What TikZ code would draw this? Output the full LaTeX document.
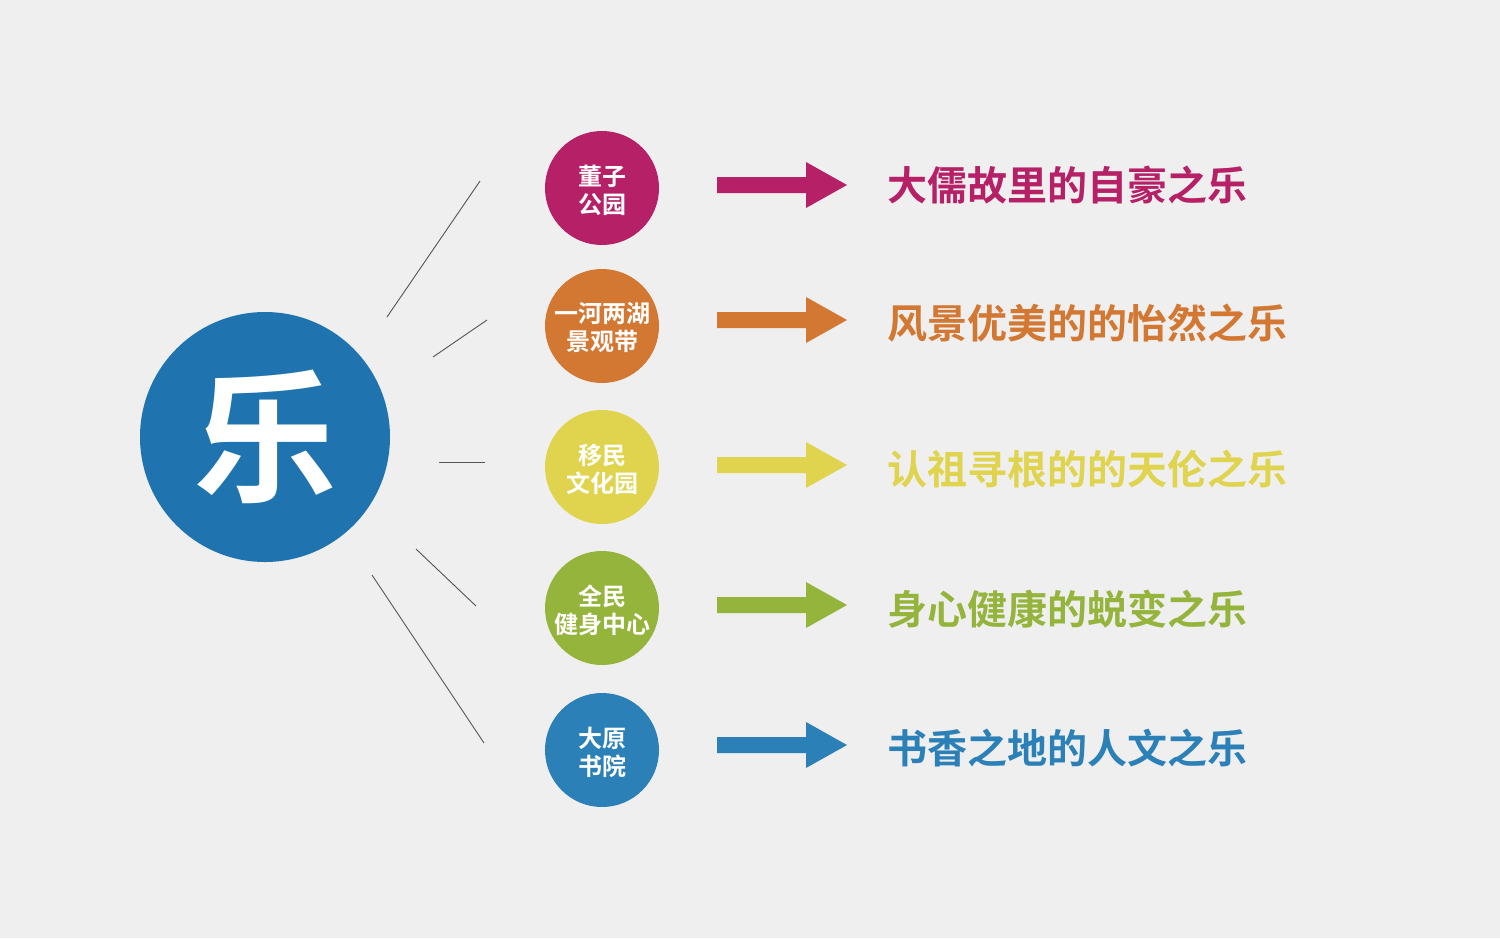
\documentclass[tikz,border=0pt]{standalone}
\usepackage{fontspec}
\newfontfamily\cjk{Noto Sans CJK SC}[BoldFont={Noto Sans CJK SC Bold}]
\definecolor{bg}{HTML}{EFEFEF}
\definecolor{cA}{HTML}{B62067}
\definecolor{cB}{HTML}{D27832}
\definecolor{cC}{HTML}{E0D44E}
\definecolor{cD}{HTML}{95B43C}
\definecolor{cE}{HTML}{2A80B7}
\definecolor{cBig}{HTML}{1F74AF}
\definecolor{ray}{HTML}{555555}
\begin{document}
\begin{tikzpicture}[x=0.5pt,y=-0.5pt,
  smallc/.style={circle,inner sep=0pt,minimum size=57pt,text=white,align=center,
    font=\cjk\bfseries\fontsize{12pt}{14pt}\selectfont},
  lbl/.style={anchor=west,inner sep=0pt,font=\cjk\bfseries\fontsize{20pt}{22pt}\selectfont},
  rayline/.style={draw=ray,line width=0.45pt}]
\fill[bg] (0,0) rectangle (1500,938);
\useasboundingbox (0,0) rectangle (1500,938);
% big circle
\node[circle,fill=cBig,minimum size=125pt,inner sep=0pt,text=white,
  font=\cjk\bfseries\fontsize{72pt}{72pt}\selectfont] (le) at (265,437) {乐};
% rays
\draw[rayline] (387,317) -- (480,181);
\draw[rayline] (433,357) -- (487,320);
\draw[rayline] (439,462) -- (485,462);
\draw[rayline] (416,549) -- (476,606);
\draw[rayline] (372,575) -- (484,743);
% rows
\foreach \n/\cy/\ay/\ly/\col/\ctext/\ltext in {
  1/188/185/185/cA/{董子\\公园}/{大儒故里的自豪之乐},
  2/326/320/323/cB/{一河两湖\\景观带}/{风景优美的的怡然之乐},
  3/467/465/469/cC/{移民\\文化园}/{认祖寻根的的天伦之乐},
  4/608/605/609/cD/{全民\\健身中心}/{身心健康的蜕变之乐},
  5/750/745/748/cE/{大原\\书院}/{书香之地的人文之乐}}{
  \node[smallc,fill=\col] (c\n) at (602,\cy) {};
  \node[text=white,align=center,inner sep=0pt,
    font=\cjk\bfseries\fontsize{12pt}{14pt}\selectfont] (t\n) at (602,\cy+2) {\ctext};
  \fill[\col] (717,\ay-8) -- (806,\ay-8) -- (806,\ay-23) -- (847,\ay)
     -- (806,\ay+23) -- (806,\ay+8) -- (717,\ay+8) -- cycle;
  \node[lbl,text=\col] (l\n) at (887,\ly) {\ltext};
}
\end{tikzpicture}
\end{document}
